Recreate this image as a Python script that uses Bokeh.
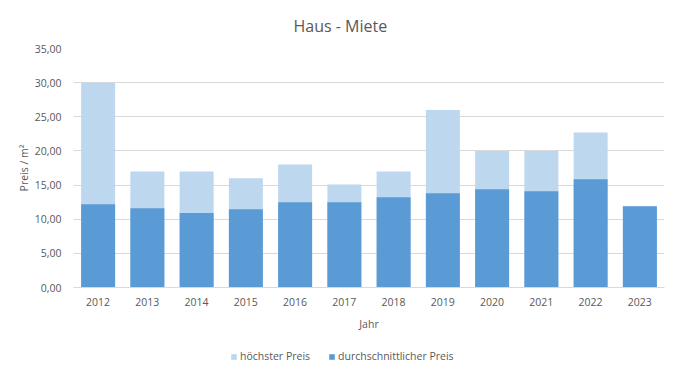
from bokeh.plotting import figure
from bokeh.layouts import column
from bokeh.models import FixedTicker, Legend, LegendItem, Range1d, ColumnDataSource
from bokeh.embed import file_html
from bokeh.resources import INLINE

years = ["2012", "2013", "2014", "2015", "2016", "2017", "2018", "2019", "2020", "2021", "2022", "2023"]
hoechster = [30.0, 17.0, 17.0, 16.0, 18.0, 15.1, 17.0, 26.0, 20.0, 20.0, 22.7, 11.9]
durchschnitt = [12.2, 11.6, 10.9, 11.45, 12.5, 12.5, 13.2, 13.8, 14.4, 14.1, 15.85, 11.9]
y_ticks = [0, 5, 10, 15, 20, 25, 30, 35]
y_labels = ["0,00", "5,00", "10,00", "15,00", "20,00", "25,00", "30,00", "35,00"]

FONT = "Open Sans"
GREY = "#595959"
LIGHT = "#BDD7EE"
DARK = "#5B9BD5"

src = ColumnDataSource(dict(x=years, hi=hoechster, avg=durchschnitt))

p = figure(width=679, height=340, x_range=years, y_range=Range1d(0, 35),
           output_backend="svg", toolbar_location=None,
           min_border_left=73, min_border_right=15, min_border_top=48, min_border_bottom=53,
           outline_line_color=None, title="Haus - Miete")

p.title.align = "left"
p.title.offset = 220
p.title.standoff = 24
p.title.text_font = FONT
p.title.text_font_size = "16px"
p.title.text_font_style = "normal"
p.title.text_color = GREY

r1 = p.vbar(x="x", top="hi", width=0.69, source=src, fill_color=LIGHT, line_color=None)
r2 = p.vbar(x="x", top="avg", width=0.69, source=src, fill_color=DARK, line_color=None)

p.yaxis.ticker = FixedTicker(ticks=y_ticks)
p.yaxis.major_label_overrides = {t: l for t, l in zip(y_ticks, y_labels)}
p.yaxis.axis_line_color = None
p.yaxis.major_tick_line_color = None
p.yaxis.minor_tick_line_color = None
p.yaxis.axis_label = "Preis / m²"
p.xaxis.axis_label = "Jahr"
for ax in (p.xaxis, p.yaxis):
    ax.major_label_text_font = FONT
    ax.major_label_text_font_size = "10.5px"
    ax.major_label_text_color = GREY
    ax.axis_label_text_font = FONT
    ax.axis_label_text_font_size = "10.5px"
    ax.axis_label_text_font_style = "normal"
    ax.axis_label_text_color = GREY
p.xaxis.axis_line_color = "#D9D9D9"
p.xaxis.major_tick_line_color = None
p.xaxis.minor_tick_line_color = None
p.xaxis.major_label_standoff = 4
p.xaxis.axis_label_standoff = 8
p.yaxis.major_label_standoff = 6
p.yaxis.axis_label_standoff = 1

p.xgrid.grid_line_color = None
p.ygrid.grid_line_color = "#D9D9D9"
p.ygrid.ticker = FixedTicker(ticks=y_ticks)

# legend strip below the chart (legend glyphs come from renderers outside the visible range)
lp = figure(width=679, height=32, x_range=Range1d(0, 1), y_range=Range1d(0, 1),
            output_backend="svg", toolbar_location=None,
            x_axis_type=None, y_axis_type=None, outline_line_color=None,
            min_border_left=0, min_border_right=0, min_border_top=0, min_border_bottom=0)
lp.grid.visible = False
offscreen = ColumnDataSource(dict(x=[5], top=[5]))
l1 = lp.vbar(x="x", top="top", bottom=4, width=0.5, source=offscreen, fill_color=LIGHT, line_color=None)
l2 = lp.vbar(x="x", top="top", bottom=4, width=0.5, source=offscreen, fill_color=DARK, line_color=None)
legend = Legend(items=[LegendItem(label="höchster Preis", renderers=[l1]),
                       LegendItem(label="durchschnittlicher Preis", renderers=[l2])],
                orientation="horizontal", location=(157, 9),
                label_text_font=FONT, label_text_font_size="10.5px", label_text_color=GREY,
                glyph_width=7, glyph_height=7, label_standoff=3, spacing=18,
                border_line_color=None, background_fill_alpha=0, padding=0, margin=0)
lp.add_layout(legend, "center")

layout = column(p, lp, spacing=0)
open("out.html", "w").write(file_html(layout, INLINE))
